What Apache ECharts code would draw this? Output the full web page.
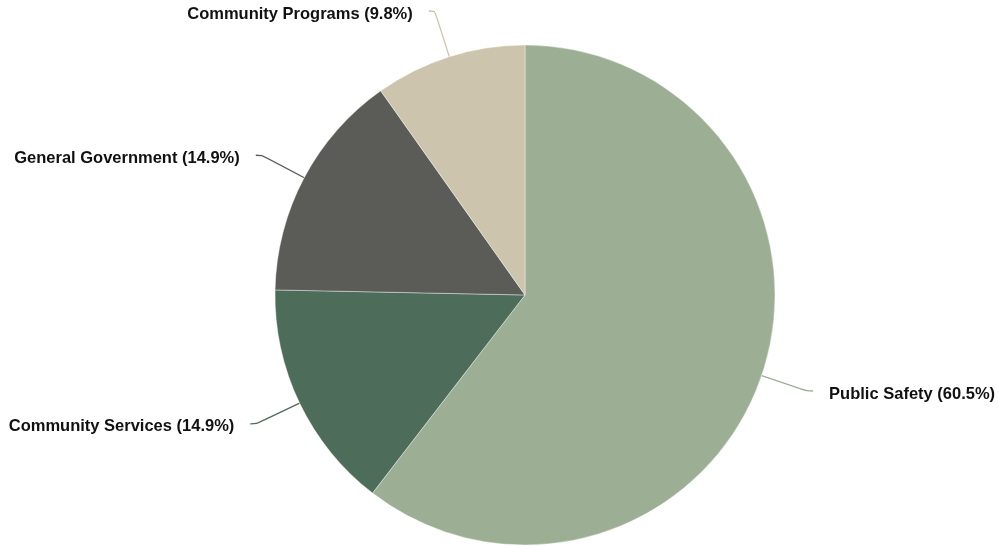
<!DOCTYPE html>
<html>
<head>
<meta charset="utf-8">
<script src="https://cdn.jsdelivr.net/npm/echarts@6/dist/echarts.min.js"></script>
<style>
  html, body { margin: 0; padding: 0; background: #ffffff; }
  #chart { width: 998px; height: 546px; }
</style>
</head>
<body>
<div id="chart"></div>
<script>
// Budget share by department
const categories = ['Public Safety', 'Community Services', 'General Government', 'Community Programs'];
const shares = [60.5, 14.9, 14.9, 9.8];
const colors = ['#9caf94', '#4e6c5a', '#5b5c58', '#cdc4ad'];

const chart = echarts.init(document.getElementById('chart'), null, { renderer: 'canvas' });

const data = categories.map((name, i) => ({
  name: name,
  value: shares[i],
  itemStyle: { color: colors[i] },
  labelLine: { lineStyle: { color: colors[i] } }
}));

chart.setOption({
  animation: false,
  series: [{
    type: 'pie',
    center: [525, 295],
    radius: 250,
    startAngle: 90,
    clockwise: true,
    data: data,
    itemStyle: { borderColor: '#ffffff', borderWidth: 0.4 },
    label: {
      show: true,
      formatter: p => `${p.name} (${p.value}%)`,
      fontFamily: 'Liberation Sans, Arial, Helvetica, sans-serif',
      fontSize: 16.5,
      fontWeight: 'bold',
      color: '#111111',
      overflow: 'none',
      distanceToLabelLine: 16
    },
    labelLayout: { dy: 3 },
    labelLine: {
      show: true,
      smooth: 0.3,
      length: 48,
      length2: 6,
      lineStyle: { width: 1.3 }
    }
  }]
});
</script>
</body>
</html>
